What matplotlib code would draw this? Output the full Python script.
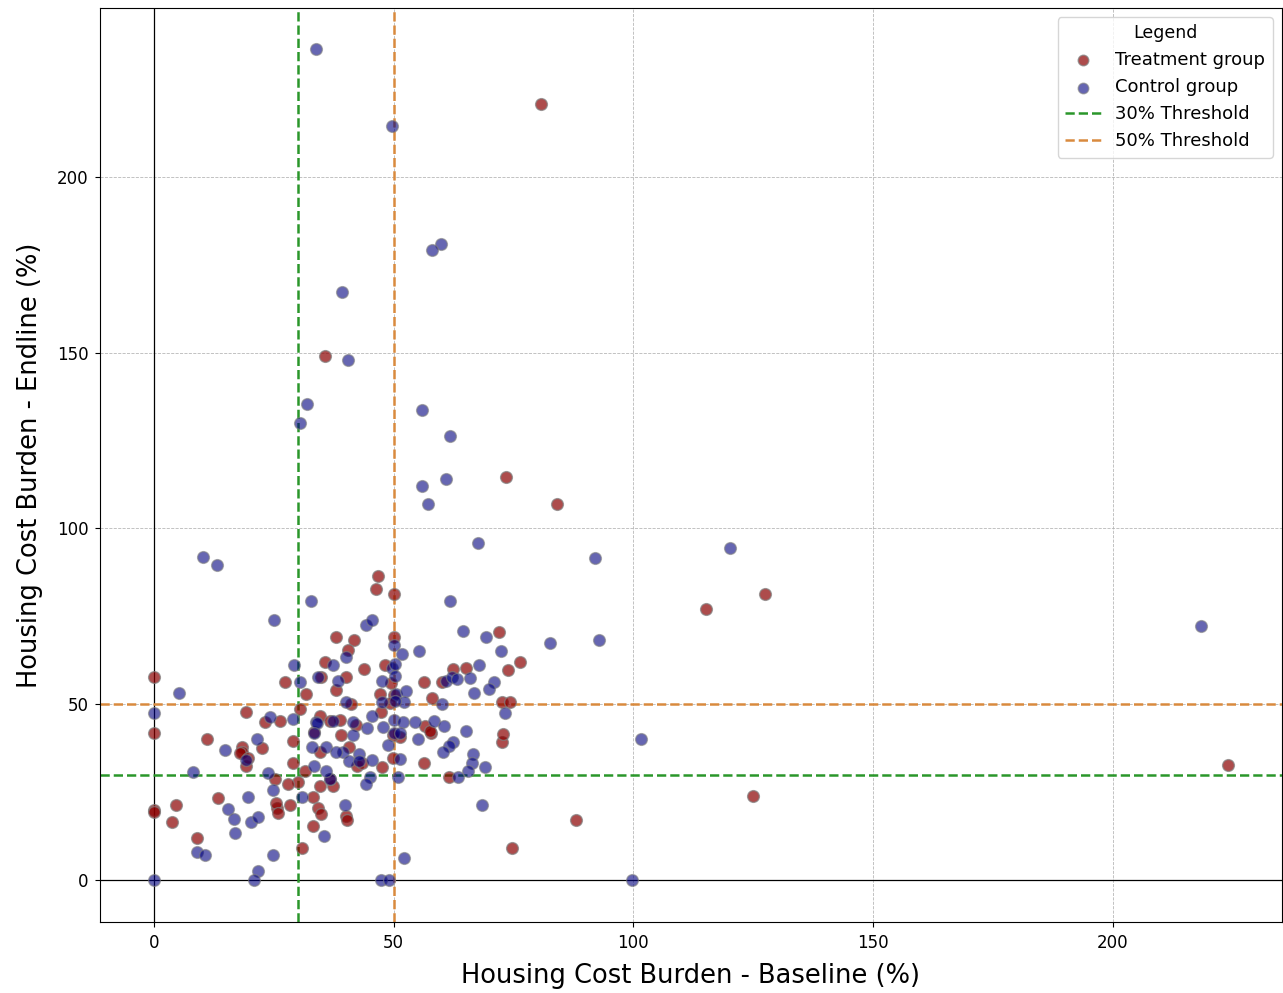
import matplotlib
matplotlib.use("Agg")
import matplotlib.pyplot as plt

# Treatment group: (baseline %, endline %)
treat_x = [80.8, 35.6, 73.5, 84.0, 115.2, 127.5, 224.0, 125.0, 88.1, 74.8,
           72.7, 71.9, 76.3, 73.8, 72.7, 74.2, 72.9, 62.3, 65.2, 56.3,
           60.2, 58.1, 56.5, 57.9, 57.7, 56.3, 61.5, 46.7, 46.3, 50.0,
           37.9, 41.7, 40.6, 50.0, 35.6, 43.8, 48.3, 34.8, 40.0, 31.7,
           38.1, 49.4, 47.1, 50.0, 41.2, 30.4, 49.2, 47.3, 34.6, 38.8,
           42.1, 33.5, 39.0, 51.3, 49.8, 40.8, 42.3, 47.5, 49.8, 37.3,
           19.2, 23.1, 26.3, 36.7, 22.5, 18.3, 18.3, 19.2, 29.0, 34.6,
           29.0, 31.5, 25.2, 30.0, 33.1, 34.6, 36.7, 25.6, 34.2, 27.3,
           0.0, 0.0, 11.0, 17.9, 19.6, 27.9, 13.3, 25.4, 28.5, 25.8,
           0.0, 4.6, 3.9, 9.0, 43.5, 40.0, 40.2, 34.8, 33.1, 31.0, 0.0]
treat_y = [220.7, 148.9, 114.5, 107.1, 77.0, 81.5, 32.7, 24.1, 17.3, 9.1,
           39.2, 70.7, 62.2, 59.9, 50.6, 50.6, 41.5, 60.2, 60.5, 56.5,
           56.5, 51.7, 43.8, 41.8, 42.6, 33.5, 29.5, 86.4, 82.7, 81.3,
           69.3, 68.2, 65.6, 69.3, 62.2, 60.2, 61.1, 57.7, 57.7, 53.1,
           54.0, 56.0, 53.1, 52.6, 50.0, 48.6, 50.3, 48.0, 46.6, 45.7,
           44.3, 42.3, 41.2, 40.9, 41.2, 37.8, 32.4, 32.1, 34.9, 26.7,
           48.0, 44.9, 45.2, 45.2, 37.5, 37.8, 36.4, 32.4, 39.5, 36.4,
           33.5, 31.0, 28.7, 28.1, 23.6, 26.7, 28.7, 20.7, 20.7, 56.5,
           57.7, 41.8, 40.3, 36.1, 34.9, 27.3, 23.3, 21.9, 21.3, 19.3,
           19.9, 21.3, 16.5, 12.2, 33.5, 18.2, 17.3, 19.0, 15.6, 9.1, 19.5]

# Control group: (baseline %, endline %)
ctrl_x = [33.8, 49.6, 59.8, 58.1, 39.2, 40.6, 31.9, 30.4, 56.0, 61.7,
          61.0, 56.0, 57.1, 67.7, 10.2, 13.1, 92.1, 120.2, 218.3, 92.9,
          82.7, 101.5, 99.8, 68.5, 69.0, 69.2, 72.5, 67.9, 71.0, 70.0,
          73.3, 64.4, 55.4, 61.0, 62.1, 63.3, 66.0, 66.7, 60.0, 58.5,
          60.6, 65.0, 62.3, 61.5, 60.4, 66.5, 66.3, 65.6, 63.5, 55.0,
          32.7, 61.7, 44.2, 45.6, 50.0, 51.7, 40.0, 37.3, 49.6, 50.4,
          34.2, 38.5, 30.4, 47.5, 50.6, 52.5, 40.0, 47.5, 52.1, 45.6,
          33.8, 37.3, 41.5, 44.4, 47.7, 50.0, 51.9, 54.4, 50.0, 41.5,
          50.2, 51.3, 48.8, 39.4, 42.7, 40.8, 42.7, 45.6, 51.3, 51.0,
          45.0, 44.2, 36.7, 39.8, 24.2, 29.0, 34.0, 33.5, 21.5, 19.2,
          32.9, 36.0, 37.9, 33.5, 36.0, 23.8, 24.8, 31.0, 19.6, 25.0,
          29.2, 5.2, 0.0, 14.8, 8.1, 15.4, 16.7, 20.2, 21.7, 16.9,
          9.0, 10.6, 24.8, 21.7, 20.8, 0.0, 35.4, 52.1, 47.3, 49.0, 50.4]
ctrl_y = [236.1, 214.5, 180.7, 179.0, 167.3, 148.0, 135.5, 130.1, 133.8, 126.4,
          114.2, 112.2, 107.1, 96.0, 92.0, 89.5, 91.5, 94.6, 72.4, 68.2,
          67.6, 40.1, 0.0, 21.3, 32.1, 69.3, 65.3, 61.1, 56.3, 54.3,
          47.7, 71.0, 65.1, 56.8, 57.7, 57.1, 57.4, 53.4, 50.0, 45.2,
          44.0, 42.6, 39.2, 38.1, 36.4, 35.8, 33.5, 31.0, 29.5, 40.1,
          79.5, 79.3, 72.7, 73.9, 66.8, 64.2, 63.4, 61.1, 60.5, 58.2,
          57.7, 56.8, 56.3, 56.8, 53.1, 53.7, 50.6, 50.6, 50.6, 46.6,
          44.9, 45.2, 44.9, 43.2, 43.5, 45.7, 44.9, 44.9, 42.0, 41.2,
          51.1, 42.0, 38.6, 36.4, 35.8, 33.8, 33.8, 34.1, 34.4, 29.5,
          29.5, 27.3, 28.7, 21.3, 46.3, 46.0, 44.6, 42.0, 40.1, 34.1,
          37.8, 37.8, 36.4, 32.4, 31.0, 30.4, 25.6, 23.6, 23.6, 74.1,
          61.1, 53.4, 47.7, 37.2, 30.7, 20.2, 17.6, 16.5, 17.9, 13.4,
          8.0, 7.1, 7.1, 2.6, 0.0, 0.0, 12.5, 6.3, 0.0, 0.0, 61.4]

thresholds = [30, 50]
threshold_labels = ["30% Threshold", "50% Threshold"]
threshold_colors = ["#2a962a", "#d98a3e"]

fig, ax = plt.subplots(figsize=(12.83, 9.93), dpi=100)
fig.subplots_adjust(left=0.078, right=0.999, top=0.992, bottom=0.0715)

ax.scatter(treat_x, treat_y, s=72, color="darkred", alpha=0.7,
           edgecolors="gray", linewidths=1.0, label="Treatment group", zorder=3)
ax.scatter(ctrl_x, ctrl_y, s=72, color="navy", alpha=0.6,
           edgecolors="gray", linewidths=1.0, label="Control group", zorder=3)

ax.axhline(0, color="black", linewidth=0.9, zorder=1)
ax.axvline(0, color="black", linewidth=0.9, zorder=1)

for t, lab, c in zip(thresholds, threshold_labels, threshold_colors):
    ax.axvline(t, color=c, linestyle="--", linewidth=1.8, label=lab, zorder=2)
    ax.axhline(t, color=c, linestyle="--", linewidth=1.8, zorder=2)

ax.grid(True, linestyle="--", linewidth=0.6, color="#b0b0b0", alpha=0.9, zorder=0)
ax.set_axisbelow(True)

ax.set_xlabel("Housing Cost Burden - Baseline (%)", fontsize=18.5, labelpad=8)
ax.set_ylabel("Housing Cost Burden - Endline (%)", fontsize=18.5, labelpad=10)
ax.tick_params(labelsize=12, pad=5)

ax.legend(title="Legend", fontsize=13, title_fontsize=12.5, loc="upper right",
          markerscale=0.9)

fig.savefig("out.png", dpi=100)
